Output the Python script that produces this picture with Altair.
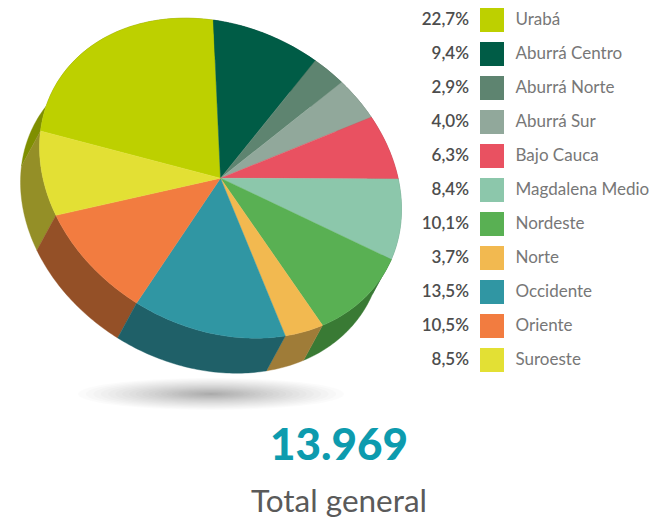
import math
import altair as alt
import pandas as pd

names = ["Urabá", "Aburrá Centro", "Aburrá Norte", "Aburrá Sur", "Bajo Cauca",
         "Magdalena Medio", "Nordeste", "Norte", "Occidente", "Oriente", "Suroeste"]
values = [22.7, 9.4, 2.9, 4.0, 6.3, 8.4, 10.1, 3.7, 13.5, 10.5, 8.5]
labels = ["22,7%", "9,4%", "2,9%", "4,0%", "6,3%", "8,4%", "10,1%", "3,7%", "13,5%", "10,5%", "8,5%"]
top_colors = ["#bdd000", "#005c46", "#5e8470", "#91a89b", "#e95161", "#8cc7ab",
              "#59b053", "#f2b950", "#3096a3", "#f27c40", "#e3e034"]
wall_colors = ["#7f8f00", "#00402f", "#41604f", "#66786e", "#a33844", "#5f8f78",
               "#397a34", "#9f7c38", "#1f6068", "#945027", "#948f27"]
total = "13.969"
subtitle = "Total general"

CX, CY = 220.5, 177.2
AX, CXY, DY = 181, 31, 157
DX, DZ = -19, 35
T0 = -174.0


def ell(t):
    r = math.radians(t)
    return CX + AX * math.cos(r), CY + CXY * math.cos(r) + DY * math.sin(r)


tops, walls, wall_keys = [], [], []
t = T0
for k, v in enumerate(values):
    t1 = t + v * 3.6
    n = max(2, int(v * 3.6))
    arc = [ell(t + (t1 - t) * j / n) for j in range(n + 1)]
    poly = [(CX, CY)] + arc
    for i, (x, y) in enumerate(poly):
        tops.append({"s": k, "i": i, "x": x, "y": y, "c": top_colors[k]})
    wp = arc + [(x + DX, y + DZ) for x, y in reversed(arc)]
    mx, my = ell((t + t1) / 2)
    wall_keys.append((mx * DX + my * DZ, k, wp))
    t = t1
for _, k, wp in sorted(wall_keys, key=lambda w: w[0]):
    for i, (x, y) in enumerate(wp):
        walls.append({"s": k, "i": i, "x": x, "y": y, "c": wall_colors[k]})

RINGS = 24
shadow = []
for j in range(1, RINGS + 1):
    f = (j / RINGS) ** 1.4
    for a in range(0, 360, 4):
        shadow.append({"s": j, "i": a,
                       "x": 211 + 133 * f * math.cos(math.radians(a)),
                       "y": 393 + 16 * f * math.sin(math.radians(a))})

rows = pd.DataFrame({
    "name": names, "label": labels, "color": top_colors,
    "y": [19 + 34 * i for i in range(len(names))],
    "xl": 469, "xs": 492, "xt": 515.5,
})

XS = alt.Scale(domain=[8, 649])
YS = alt.Scale(domain=[519, 7])
X = alt.X("x:Q", scale=XS, axis=None)
Y = alt.Y("y:Q", scale=YS, axis=None)


def poly_layer(data):
    return alt.Chart(pd.DataFrame(data)).mark_line(
        filled=True, interpolate="linear-closed", strokeWidth=0.4
    ).encode(
        x=X, y=Y, detail="s:N", order="i:Q",
        fill=alt.Fill("c:N", scale=None, legend=None),
        stroke=alt.Stroke("c:N", scale=None, legend=None),
    )


shadow_layer = alt.Chart(pd.DataFrame(shadow)).mark_line(
    filled=True, interpolate="linear-closed", strokeWidth=0, fill="#000000", fillOpacity=0.015, opacity=1
).encode(x=X, y=Y, detail="s:N", order="i:Q")

FONT = "Lato"
base = alt.Chart(rows)
swatches = base.mark_square(size=576, opacity=1).encode(
    x=alt.X("xs:Q", scale=XS, axis=None),
    y=alt.Y("y:Q", scale=YS, axis=None),
    fill=alt.Fill("color:N", scale=None, legend=None),
)
pct = base.mark_text(align="right", baseline="middle", font=FONT, fontSize=17, fontWeight=600, color="#4d4d4d").encode(
    x=alt.X("xl:Q", scale=XS, axis=None),
    y=alt.Y("y:Q", scale=YS, axis=None),
    text="label:N",
)
lab = base.mark_text(align="left", baseline="middle", font=FONT, fontSize=17, color="#777777").encode(
    x=alt.X("xt:Q", scale=XS, axis=None),
    y=alt.Y("y:Q", scale=YS, axis=None),
    text="name:N",
)
tot = alt.Chart(pd.DataFrame({"x": [339], "y": [446], "t": [total]})).mark_text(
    align="center", baseline="middle", font=FONT, fontSize=44, fontWeight=900, color="#0d9bae"
).encode(x=X, y=Y, text="t:N")
sub = alt.Chart(pd.DataFrame({"x": [339], "y": [502], "t": [subtitle]})).mark_text(
    align="center", baseline="middle", font=FONT, fontSize=31.5, color="#5a5a5a"
).encode(x=X, y=Y, text="t:N")

chart = alt.layer(
    shadow_layer, poly_layer(walls), poly_layer(tops), swatches, pct, lab, tot, sub
).properties(width=641, height=512, padding=0, autosize=alt.AutoSizeParams(type="none")
).configure_view(stroke=None)

chart.save("out.html", embed_options={"renderer": "svg", "actions": False})
